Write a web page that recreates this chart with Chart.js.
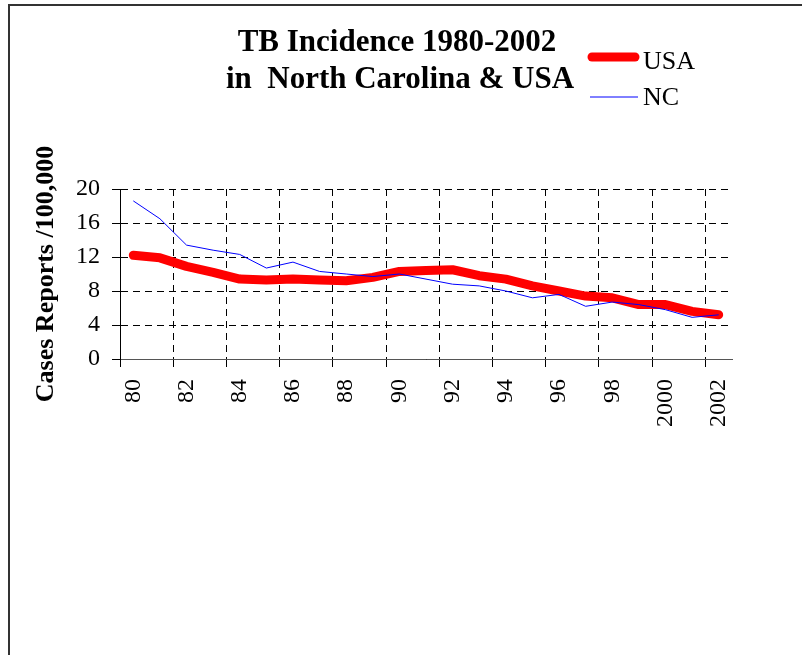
<!DOCTYPE html>
<html>
<head>
<meta charset="utf-8">
<title>TB Incidence 1980-2002</title>
<script src="https://cdn.jsdelivr.net/npm/chart.js@4"></script>
<style>
  body { margin: 0; background: #fff; }
  #wrap { position: relative; width: 802px; height: 655px; }
</style>
</head>
<body>
<div id="wrap"><canvas id="tbChart" width="802" height="655"></canvas></div>
<script>
// values (cases per 100,000)
const years = ['80', '81', '82', '83', '84', '85', '86', '87', '88', '89', '90', '91',
    '92', '93', '94', '95', '96', '97', '98', '99', '2000', '2001', '2002'];
const usaRates = [12.2, 11.9, 10.9, 10.2, 9.4, 9.3, 9.4, 9.3, 9.2, 9.6, 10.3, 10.4,
    10.5, 9.8, 9.4, 8.6, 8.0, 7.4, 7.2, 6.4, 6.4, 5.6, 5.2];
const ncRates = [18.6, 16.5, 13.4, 12.8, 12.3, 10.7, 11.4, 10.3, 10.0, 9.7, 10.0, 9.4,
    8.8, 8.6, 8.0, 7.2, 7.6, 6.2, 6.7, 6.4, 5.8, 4.9, 5.2];
const yMin = 0;
const yMax = 20;
const yStep = 4;
const titleLines = ['TB Incidence 1980-2002', 'in  North Carolina & USA'];
const yTitle = 'Cases Reports /100,000';

const serif = "'Liberation Serif', 'Times New Roman', serif";
const dash = [7, 5];

// every other year gets a grid line and a label
const everyOther = ctx => (ctx.index % 2 === 0 ? '#000' : 'rgba(0,0,0,0)');

// frame, two-line title and the little legend in the top right
const decorations = {
    id: 'decorations',
    afterDraw(chart) {
        const ctx = chart.ctx;
        ctx.save();

        ctx.strokeStyle = '#333';
        ctx.lineWidth = 2;
        ctx.beginPath();
        ctx.moveTo(9, 655);
        ctx.lineTo(9, 5);
        ctx.lineTo(802, 5);
        ctx.stroke();

        ctx.fillStyle = '#000';
        ctx.textAlign = 'center';
        ctx.textBaseline = 'alphabetic';
        ctx.font = 'bold 31px ' + serif;
        ctx.fillText(titleLines[0], 397, 51);
        ctx.fillText(titleLines[1], 400, 88);

        const items = chart.data.datasets.slice().sort((a, b) => b.order - a.order);
        const rows = [57, 97];
        ctx.textAlign = 'left';
        ctx.font = '26px ' + serif;
        items.forEach((ds, i) => {
            const y = rows[i];
            ctx.strokeStyle = ds.borderColor;
            ctx.lineWidth = ds.borderWidth;
            ctx.lineCap = ds.borderWidth > 2 ? 'round' : 'butt';
            ctx.beginPath();
            ctx.moveTo(ds.borderWidth > 2 ? 592 : 590, y);
            ctx.lineTo(ds.borderWidth > 2 ? 635 : 638, y);
            ctx.stroke();
            ctx.fillStyle = '#000';
            ctx.fillText(ds.label, 643, y + (i === 0 ? 12 : 8));
        });

        ctx.restore();
    }
};

new Chart(document.getElementById('tbChart'), {
    type: 'line',
    data: {
        labels: years,
        datasets: [
            {
                label: 'USA',
                data: usaRates,
                borderColor: '#ff0000',
                borderWidth: 9,
                borderCapStyle: 'round',
                borderJoinStyle: 'round',
                pointRadius: 0,
                tension: 0,
                fill: false,
                order: 1
            },
            {
                label: 'NC',
                data: ncRates,
                borderColor: '#0000ff',
                borderWidth: 1,
                pointRadius: 0,
                tension: 0,
                fill: false,
                order: 0
            }
        ]
    },
    options: {
        responsive: false,
        devicePixelRatio: 1,
        animation: false,
        layout: { padding: { top: 189, right: 70, left: 0, bottom: 0 } },
        plugins: {
            legend: { display: false },
            title: { display: false },
            tooltip: { enabled: false }
        },
        scales: {
            x: {
                type: 'category',
                offset: true,
                grid: {
                    offset: true,
                    color: everyOther,
                    tickColor: everyOther,
                    tickLength: 8,
                    lineWidth: 1
                },
                border: { display: true, color: '#555', width: 1, dash: dash },
                ticks: {
                    autoSkip: false,
                    minRotation: 90,
                    maxRotation: 90,
                    padding: 12,
                    color: '#000',
                    font: { family: serif, size: 24 },
                    callback: function (value, index) {
                        return index % 2 === 0 ? this.getLabelForValue(value) : '';
                    }
                },
                afterFit(scale) { scale.height = 296; }
            },
            y: {
                min: yMin,
                max: yMax,
                grid: { color: '#000', tickColor: '#000', tickLength: 8, lineWidth: 1 },
                border: { display: true, color: '#000', width: 1, dash: dash },
                ticks: {
                    stepSize: yStep,
                    padding: 12,
                    color: '#000',
                    font: { family: serif, size: 24 }
                },
                title: {
                    display: true,
                    text: yTitle,
                    color: '#000',
                    font: { family: serif, size: 26, weight: 'bold' },
                    padding: { top: 31, bottom: 0 }
                },
                afterFit(scale) { scale.width = 120; }
            }
        }
    },
    plugins: [decorations]
});
</script>
</body>
</html>
